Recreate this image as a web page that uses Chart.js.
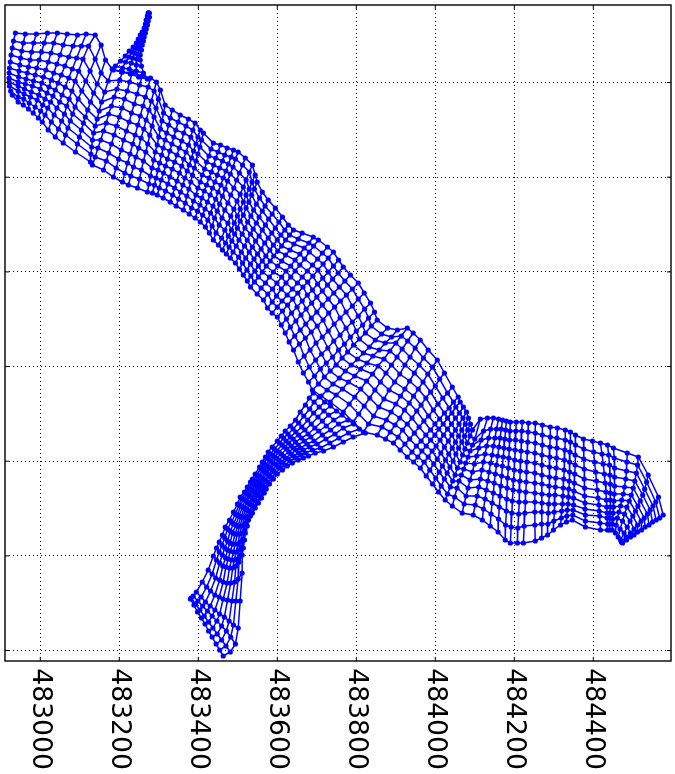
<!DOCTYPE html>
<html><head><meta charset="utf-8">
<style>html,body{margin:0;padding:0;background:#fff}canvas{display:block}</style>
<script src="https://cdn.jsdelivr.net/npm/chart.js@4"></script></head>
<body><canvas id="c" width="675" height="774"></canvas>
<script>
const eastBase = 483000;
const eastTicks = [483000,483200,483400,483600,483800,484000,484200,484400];
const northTicks = [0.5,95.1,189.8,284.5,379.1,473.8,568.5];
const mainEast = [
[-63,-68,-71,-74,-76,-78,-79,-79,-79,-78,-75,-71],
[-38,-43,-47,-50,-52,-54,-55,-56,-56,-56,-56,-56],
[-10,-17,-22,-26,-30,-33,-36,-38,-40,-41,-42,-43],
[18,10,3,-3,-9,-13,-17,-20,-23,-25,-28,-30],
[43,34,27,20,14,8,4,0,-4,-8,-13,-18],
[68,58,50,42,34,28,22,17,12,6,1,-5],
[94,83,72,62,53,45,38,32,26,19,12,5],
[116,104,92,81,72,63,55,49,42,35,28,20],
[139,122,108,97,88,80,73,67,61,54,46,38],
[154,139,126,115,105,96,88,82,76,70,64,58],
[165,154,144,135,127,120,114,109,104,99,94,89],
[182,172,163,155,149,144,139,135,132,130,128,127],
[208,201,194,187,180,173,167,160,153,146,139,132],
[233,226,220,213,207,200,193,187,180,173,167,160],
[258,251,245,238,231,225,218,211,205,198,192,185],
[279,273,266,260,253,247,240,234,227,221,214,208],
[294,288,281,275,268,262,255,249,242,236,229,223],
[304,299,293,288,283,277,272,267,261,256,251,246],
[316,312,308,304,300,296,291,287,283,279,275,271],
[334,329,325,320,316,311,307,302,298,293,289,284],
[354,349,343,338,333,328,322,317,312,306,301,296],
[375,369,363,358,352,346,340,334,328,323,317,311],
[392,386,381,375,369,363,358,352,346,340,335,329],
[405,399,394,388,383,377,372,366,361,355,350,344],
[413,408,404,399,394,390,385,381,376,371,367,362],
[438,432,427,421,416,410,405,399,394,388,383,377],
[456,450,444,439,433,427,421,415,409,404,398,392],
[473,467,461,454,448,442,436,430,423,417,411,405],
[489,483,476,470,463,457,450,444,437,431,424,418],
[501,494,488,481,474,468,461,454,448,441,435,428],
[519,512,504,497,490,482,475,467,460,453,445,438],
[537,529,521,514,506,498,490,482,475,467,459,451],
[544,536,529,521,514,506,499,491,484,476,469,461],
[549,542,535,528,521,514,506,499,492,485,478,471],
[562,555,547,540,533,525,518,511,503,496,488,481],
[577,569,562,554,547,539,532,524,517,509,502,494],
[595,587,578,570,562,554,545,537,529,520,512,504],
[613,604,595,586,577,568,559,550,541,532,523,514],
[628,619,609,600,590,581,571,562,552,543,533,524],
[641,631,621,611,601,591,582,572,562,552,542,532],
[663,653,642,632,621,611,601,590,580,570,559,549],
[691,680,668,657,645,634,622,611,599,588,576,565],
[704,692,681,669,657,645,634,622,610,598,587,575],
[727,714,702,689,676,663,651,638,625,612,600,587],
[742,729,716,703,690,677,665,652,639,626,613,600],
[755,742,729,715,702,689,676,663,650,636,623,610],
[767,754,740,727,714,700,687,673,660,647,633,620],
[785,771,757,743,729,714,700,686,672,658,644,630],
[805,790,775,760,745,730,716,701,686,671,656,641],
[820,805,790,774,759,744,729,714,698,683,668,653],
[836,821,805,790,774,759,743,728,712,697,681,666],
[846,831,816,800,785,770,755,740,724,709,694,679],
[853,838,823,808,793,778,764,749,734,719,704,689],
[879,864,848,833,818,803,787,772,757,741,726,711],
[904,889,873,858,842,827,811,796,780,765,749,734],
[929,914,900,885,870,855,841,826,811,796,782,767],
[944,930,916,903,889,875,861,847,834,820,806,792],
[962,949,936,923,910,897,883,870,857,844,831,818],
[982,970,959,947,935,923,912,900,888,876,865,853],
[1005,993,981,969,957,945,934,922,910,898,886,874],
[1023,1011,1000,988,976,964,953,941,929,917,906,894],
[1043,1031,1019,1007,995,983,971,959,947,935,923,911],
[1058,1046,1035,1023,1011,999,988,976,964,952,941,929],
[1063,1052,1042,1031,1020,1009,999,988,977,966,956,945],
[1071,1061,1051,1041,1031,1021,1012,1002,992,982,972,962],
[1079,1070,1060,1051,1042,1033,1023,1014,1005,996,986,977],
[1084,1076,1067,1059,1051,1043,1034,1026,1018,1010,1001,993],
[1089,1082,1074,1067,1059,1052,1045,1037,1030,1023,1015,1008],
[1094,1088,1081,1075,1069,1063,1056,1050,1044,1038,1031,1025],
[1114,1100,1094,1088,1083,1077,1072,1066,1060,1055,1049,1043],
[1132,1122,1116,1110,1105,1099,1094,1088,1083,1078,1073,1068],
[1147,1140,1135,1130,1126,1122,1118,1114,1110,1106,1101,1096],
[1160,1155,1151,1147,1144,1140,1136,1133,1129,1126,1122,1119],
[1170,1167,1164,1161,1158,1155,1152,1149,1147,1144,1141,1139],
[1180,1178,1176,1174,1172,1170,1168,1166,1164,1162,1160,1159],
[1190,1189,1188,1187,1186,1185,1183,1182,1181,1180,1178,1177],
[1205,1204,1203,1202,1201,1200,1198,1197,1195,1194,1192,1190],
[1220,1219,1218,1217,1216,1215,1214,1213,1212,1211,1209,1208],
[1236,1235,1234,1233,1232,1231,1230,1229,1228,1227,1225,1223],
[1253,1253,1253,1252,1252,1252,1252,1252,1252,1252,1252,1253],
[1271,1271,1271,1270,1270,1270,1270,1270,1270,1269,1269,1269],
[1291,1291,1290,1290,1289,1289,1288,1288,1287,1286,1285,1284],
[1309,1308,1308,1307,1306,1305,1304,1303,1302,1301,1300,1299],
[1329,1329,1328,1327,1326,1325,1324,1323,1322,1320,1319,1317],
[1342,1342,1341,1340,1340,1339,1338,1337,1336,1334,1333,1332],
[1355,1355,1354,1354,1353,1352,1351,1350,1350,1349,1348,1347],
[1375,1376,1376,1377,1377,1378,1378,1379,1379,1380,1380,1380],
[1398,1401,1403,1406,1408,1410,1412,1414,1415,1416,1417,1418],
[1418,1422,1425,1428,1430,1432,1433,1434,1435,1435,1436,1436],
[1436,1439,1441,1442,1443,1443,1443,1443,1442,1442,1441,1441],
[1451,1453,1454,1454,1454,1453,1452,1451,1450,1449,1448,1448],
[1486,1485,1484,1482,1479,1476,1472,1469,1465,1461,1458,1456],
[1514,1512,1509,1505,1501,1496,1491,1485,1479,1474,1468,1463],
[1539,1535,1530,1525,1519,1513,1507,1500,1493,1486,1478,1469],
[1565,1558,1551,1544,1537,1529,1521,1512,1503,1494,1483,1471],
[1577,1568,1559,1550,1541,1531,1522,1512,1503,1494,1484,1474]
];
const mainNorth = [
[618,610,603,596,589,583,578,573,569,565,560,556],
[617,608,600,593,586,580,574,569,565,560,554,549],
[617,608,599,591,584,578,572,567,562,557,552,546],
[618,608,599,591,583,576,570,565,559,554,548,542],
[618,608,598,589,581,574,568,562,556,551,544,538],
[617,606,596,587,578,571,564,558,552,546,540,533],
[616,605,594,585,576,568,561,555,549,543,536,529],
[617,605,593,582,573,564,556,549,543,536,529,521],
[616,605,592,580,570,560,552,545,537,530,522,514],
[606,592,580,570,560,552,544,537,530,523,516,508],
[591,578,567,558,549,541,534,528,521,514,507,499],
[582,570,559,549,540,532,525,518,511,504,497,489],
[579,571,562,554,545,537,528,520,511,503,494,486],
[578,569,560,552,543,534,525,516,507,498,490,481],
[575,566,557,547,538,529,520,511,501,492,483,474],
[573,564,554,545,535,526,516,507,497,488,478,469],
[569,560,550,541,531,522,513,503,494,484,475,466],
[561,552,543,534,525,516,507,499,490,481,472,463],
[546,538,530,522,514,506,499,491,483,475,467,459],
[541,533,526,518,511,503,496,488,481,473,466,458],
[536,529,521,514,507,500,492,485,478,471,463,456],
[532,525,518,510,503,496,489,482,474,467,460,453],
[528,521,514,506,499,492,485,478,470,463,456,449],
[521,514,507,500,493,486,480,473,466,459,452,445],
[518,511,504,497,490,483,476,469,462,455,448,441],
[508,502,495,489,482,476,469,463,456,450,443,437],
[506,499,493,486,479,473,466,460,453,446,440,433],
[503,496,490,483,476,469,463,456,449,442,436,429],
[501,494,487,480,473,466,459,452,445,438,431,424],
[499,492,484,477,470,462,455,447,440,433,425,418],
[493,486,478,471,463,456,448,441,433,426,418,411],
[486,479,471,464,457,450,442,435,428,421,413,406],
[476,469,462,456,449,442,435,428,421,415,408,401],
[469,462,456,449,443,436,430,423,417,410,404,397],
[459,453,447,441,435,429,423,417,411,405,399,393],
[451,445,440,434,428,422,417,411,405,399,394,388],
[443,437,432,426,421,415,410,404,399,393,388,382],
[434,429,423,418,413,408,402,397,392,387,381,376],
[426,421,416,411,406,401,395,390,385,380,375,370],
[421,416,411,405,400,395,390,385,379,374,369,364],
[418,412,407,401,396,390,385,379,374,368,363,357],
[414,408,403,397,391,385,380,374,368,362,357,351],
[411,405,399,392,386,380,374,368,362,355,349,343],
[404,398,392,386,380,374,368,362,356,350,344,338],
[399,393,387,381,375,369,364,358,352,346,340,334],
[391,385,379,373,367,361,356,350,344,338,332,326],
[384,378,372,366,360,354,348,342,336,330,324,318],
[376,370,364,358,352,346,339,333,327,321,315,309],
[368,362,356,350,344,338,331,325,319,313,307,301],
[358,352,345,339,333,327,320,314,308,301,295,289],
[348,342,335,329,323,316,310,303,297,291,284,278],
[339,333,326,320,314,307,301,294,288,282,275,269],
[331,325,318,312,306,299,293,286,280,274,267,261],
[323,317,311,304,298,292,286,280,273,267,261,255],
[321,314,308,301,295,288,282,275,269,262,256,249],
[323,315,308,300,292,285,277,270,262,254,247,239],
[318,310,302,294,286,278,269,261,253,245,237,229],
[311,303,294,286,277,269,261,252,244,235,227,219],
[301,293,286,278,270,262,255,247,239,231,224,216],
[291,284,277,269,262,255,248,241,233,226,219,212],
[278,272,265,259,253,246,240,233,227,221,214,208],
[264,258,253,247,241,235,230,224,218,212,207,201],
[254,249,243,238,232,227,221,216,210,205,199,194],
[249,244,238,233,227,222,216,211,205,200,194,189],
[244,238,233,227,222,216,211,205,200,194,189,183],
[239,233,227,221,216,210,204,198,192,187,181,175],
[233,227,221,215,209,203,197,191,185,179,173,167],
[227,221,215,209,203,197,190,184,178,172,165,159],
[221,215,208,202,196,189,183,176,170,164,157,151],
[232,212,206,200,194,188,182,176,170,163,154,145],
[233,220,211,203,195,187,179,171,163,155,147,138],
[233,222,213,205,197,189,181,172,164,155,146,136],
[232,222,213,205,196,188,179,170,161,152,142,131],
[231,222,213,204,195,186,177,168,158,148,137,125],
[230,221,212,203,194,185,175,165,155,144,132,119],
[229,220,211,202,193,183,173,163,152,140,126,111],
[229,220,211,201,191,181,171,161,150,138,124,108],
[229,220,210,200,190,180,170,160,149,137,123,108],
[228,219,209,199,189,179,169,159,149,138,125,108],
[228,218,208,198,188,178,168,158,149,139,126,110],
[226,216,206,196,186,176,167,157,148,139,127,113],
[224,214,204,194,184,174,165,156,147,138,127,116],
[223,213,203,193,183,173,164,156,147,139,130,121],
[221,211,201,191,181,172,163,155,147,140,133,126],
[219,209,199,189,179,170,162,154,147,141,135,129],
[216,206,196,186,177,168,160,153,146,141,136,131],
[212,202,192,182,172,163,155,148,142,136,130,124],
[210,199,189,179,170,161,153,146,140,135,128,121],
[208,197,187,177,168,159,151,144,138,133,127,121],
[206,196,186,176,167,158,151,144,138,133,127,121],
[203,193,183,174,165,157,150,144,138,132,127,121],
[198,189,180,172,164,157,151,145,139,133,126,118],
[194,186,178,170,163,156,150,144,137,130,122,114],
[176,169,162,156,150,145,140,135,130,124,118,111],
[154,149,145,141,137,133,130,126,122,118,114,109],
[136,133,131,129,126,124,121,119,116,114,111,108]
];
const branchEast = [
[691,706,720,735,750,764,779,794,808,823],
[681,693,706,718,730,743,755,767,780,792],
[671,682,692,703,714,724,735,746,756,767],
[658,667,677,686,695,705,714,723,733,742],
[646,654,662,670,678,685,693,701,709,717],
[633,640,647,654,661,668,675,682,689,696],
[620,627,633,640,646,653,659,666,672,679],
[610,616,622,629,635,641,647,654,660,666],
[600,606,612,618,624,629,635,641,647,653],
[587,593,598,604,610,615,621,627,632,638],
[577,582,588,593,598,604,609,614,620,625],
[570,575,580,584,589,594,599,603,608,613],
[562,566,570,575,579,583,587,591,596,600],
[555,559,563,567,571,574,578,582,586,590],
[544,548,552,556,560,564,568,572,576,580],
[537,541,545,549,553,556,560,564,568,572],
[532,536,540,544,548,551,555,559,563,567],
[524,528,532,536,540,544,548,552,556,560],
[517,521,525,529,532,536,540,544,548,552],
[506,510,514,519,523,527,531,536,540,544],
[499,503,507,512,516,520,524,529,533,537],
[489,494,499,503,508,513,518,522,527,532],
[479,484,489,495,500,505,510,516,521,527],
[468,474,481,487,493,499,505,512,518,524],
[461,467,474,480,487,493,500,506,513,519],
[453,460,467,474,481,489,496,503,510,517],
[446,453,461,469,476,484,491,499,507,514],
[438,446,454,462,470,479,487,495,503,511],
[425,435,444,454,463,473,482,492,501,511],
[410,421,431,442,453,463,474,485,495,506],
[395,407,418,430,442,454,466,478,489,501],
[387,399,411,423,435,447,459,471,482,494],
[382,393,404,415,426,437,448,459,470,481],
[380,389,398,408,417,426,435,445,454,463]
];
const branchNorth = [
[258,254,249,245,240,236,231,227,222,218],
[253,249,244,240,236,231,227,223,218,214],
[246,242,238,234,230,225,221,217,213,209],
[239,235,231,227,223,220,216,212,208,204],
[231,228,224,221,217,214,210,207,203,200],
[225,222,219,216,213,210,207,204,201,198],
[220,217,214,212,209,206,203,201,198,195],
[215,213,210,208,205,203,201,198,196,193],
[210,208,206,204,202,199,197,195,193,191],
[204,202,200,199,197,195,193,192,190,188],
[199,197,196,194,193,191,189,188,186,185],
[194,193,191,190,188,187,186,184,183,181],
[189,188,186,185,184,183,181,180,178,177],
[184,183,181,180,179,178,176,175,173,172],
[177,176,175,174,173,172,171,170,168,167],
[172,171,170,169,168,167,166,165,163,162],
[169,168,167,166,165,163,162,161,159,158],
[164,163,162,161,160,158,157,156,154,153],
[159,158,157,156,155,153,152,151,149,148],
[154,153,152,151,150,148,147,146,144,143],
[147,146,145,144,143,142,141,140,139,138],
[139,137,136,135,134,134,134,134,134,135],
[131,129,127,126,125,125,125,126,128,131],
[124,122,120,118,117,117,117,118,121,125],
[116,113,110,108,107,107,107,109,112,118],
[109,106,103,101,100,99,99,101,104,111],
[103,99,96,93,92,91,91,92,96,103],
[95,91,88,85,84,83,83,85,89,96],
[81,77,73,71,69,68,68,69,72,78],
[69,64,60,56,54,52,51,50,50,50],
[59,54,49,45,41,37,34,30,26,23],
[55,50,45,40,35,30,25,20,14,7],
[53,47,41,35,29,23,17,11,5,-1],
[52,46,39,33,27,20,14,7,1,-5]
];
const tipEast = [
[273,274,274,275,276],[271,272,274,275,276],[268,269,271,272,273],[266,267,268,270,271],
[263,264,266,267,268],[258,260,262,264,266],[253,256,258,261,263],[248,251,254,258,261],
[243,247,251,254,258],[235,240,245,251,256],[225,232,239,246,253],[215,225,234,244,253],
[203,216,230,243,256],[190,208,225,243,261],[185,206,228,249,271]
];
const tipNorth = [
[638,638,638,638,638],[635,635,635,634,634],[631,631,631,630,630],[627,627,627,626,626],
[623,623,623,622,622],[619,619,619,618,618],[616,616,615,615,614],[612,612,611,611,610],
[608,608,607,607,606],[604,603,603,602,601],[600,599,598,597,596],[595,594,593,592,591],
[590,589,588,586,585],[585,583,582,580,578],[581,579,577,574,572]
];

const BLUE = '#0000ff';
const datasets = [];
function addMesh(east, north){
  east.forEach((row,i)=>{
    datasets.push({data:row.map((e,j)=>({x:eastBase+e,y:north[i][j]})),
      borderColor:BLUE,backgroundColor:BLUE,borderWidth:1.5,showLine:true,pointRadius:2.6,pointBorderWidth:0});
  });
  east[0].forEach((_,j)=>{
    datasets.push({data:east.map((row,i)=>({x:eastBase+row[j],y:north[i][j]})),
      borderColor:BLUE,backgroundColor:BLUE,borderWidth:1.5,showLine:true,pointRadius:0});
  });
}
addMesh(mainEast,mainNorth);
addMesh(branchEast,branchNorth);
addMesh(tipEast,tipNorth);

const frame = {id:'frame',afterDraw(chart){
  const {ctx,chartArea:a,scales:{x,y}}=chart;
  ctx.save();ctx.strokeStyle='#000';ctx.lineWidth=1;ctx.beginPath();
  eastTicks.forEach(v=>{const p=x.getPixelForValue(v);ctx.moveTo(p,a.top);ctx.lineTo(p,a.top+4);ctx.moveTo(p,a.bottom);ctx.lineTo(p,a.bottom-4);});
  northTicks.forEach(v=>{const p=y.getPixelForValue(v);ctx.moveTo(a.left,p);ctx.lineTo(a.left+4,p);ctx.moveTo(a.right,p);ctx.lineTo(a.right-4,p);});
  ctx.stroke();
  ctx.lineWidth=1.4;ctx.strokeRect(a.left,a.top,a.right-a.left,a.bottom-a.top);
  ctx.restore();
}};
new Chart(document.getElementById('c'),{
  type:'scatter',
  data:{datasets},
  plugins:[frame],
  options:{
    responsive:false,animation:false,
    layout:{autoPadding:false,padding:{left:5,top:5,right:4,bottom:0}},
    plugins:{legend:{display:false},tooltip:{enabled:false}},
    scales:{
      x:{type:'linear',min:482910.6,max:484596.7,
        afterBuildTicks(s){s.ticks=eastTicks.map(value=>({value}));},
        afterFit(s){s.height=113;s.paddingLeft=0;s.paddingRight=0;},
        grid:{color:'#000',lineWidth:1,drawTicks:false},
        border:{display:false,dash:[1,3]},
        ticks:{autoSkip:false,minRotation:-90,maxRotation:-90,padding:109,labelOffset:0,color:'#000',
          font:{family:'DejaVu Sans',size:26.67},callback:v=>String(v)}},
      y:{type:'linear',min:-10,max:646,
        afterBuildTicks(s){s.ticks=northTicks.map(value=>({value}));},
        afterFit(s){s.width=0;},
        grid:{color:'#000',lineWidth:1,drawTicks:false},
        border:{display:false,dash:[1,3]},
        ticks:{display:false}}
    }
  }
});
</script></body></html>
